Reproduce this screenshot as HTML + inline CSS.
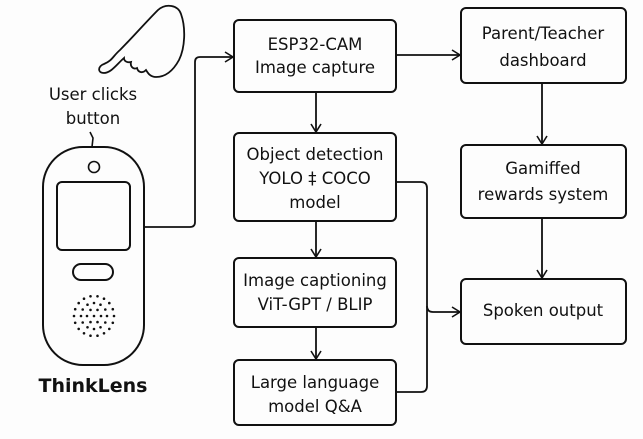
<!DOCTYPE html>
<html><head><style>
body{margin:0;background:#fdfdfd;}
svg{display:block}
text{font-family:"DejaVu Sans","Liberation Sans",sans-serif;fill:#111;}
</style></head><body>
<svg width="643" height="439" viewBox="0 0 643 439" xmlns="http://www.w3.org/2000/svg">
<defs><marker id="a" markerWidth="12" markerHeight="12" refX="10" refY="6" orient="auto" markerUnits="userSpaceOnUse"><path d="M2,1 L10,6 L2,11" fill="none" stroke="#111" stroke-width="1.6"/></marker></defs>
<g fill="none" stroke="#111" stroke-width="2">
<!-- hand -->
<path d="M104,73 C97,73 98,66 104,64 C112,61 113,56 120,50 C132,38 146,22 158,10 C166,3 178,5 181,14 C186,28 185,48 179,60 C173,71 165,77 156,77 C150,77 148,73 146,70 C142,74 138,72 137,68 C133,70 130,66 131,62 C127,63 124,61 124,58 C117,64 111,73 104,73 Z" stroke-width="1.8"/>
<!-- phone -->
<rect x="43" y="147" width="101" height="218" rx="40"/>
<circle cx="94" cy="167" r="5.5" stroke-width="1.6"/>
<rect x="57" y="182" width="73" height="68" rx="5"/>
<rect x="73" y="264" width="40" height="16" rx="8"/>
<path d="M90,132 L93,138 L92,147" stroke-width="1.6"/>
<!-- boxes -->
<rect x="234" y="20" width="162" height="72" rx="5"/>
<rect x="461" y="8" width="165" height="75" rx="5"/>
<rect x="234" y="133" width="162" height="88" rx="5"/>
<rect x="461" y="145" width="165" height="73" rx="5"/>
<rect x="234" y="258" width="162" height="69" rx="5"/>
<rect x="461" y="279" width="165" height="65" rx="5"/>
<rect x="234" y="360" width="162" height="65" rx="5"/>
</g>
<g fill="none" stroke="#111" stroke-width="1.8">
<path d="M144,227 L190,227 Q195,227 195,222 L195,62 Q195,57 200,57 L233,57" marker-end="url(#a)"/>
<path d="M396,55 L460,55" marker-end="url(#a)"/>
<path d="M316,92 L316,132" marker-end="url(#a)"/>
<path d="M316,221 L316,257" marker-end="url(#a)"/>
<path d="M316,327 L316,359" marker-end="url(#a)"/>
<path d="M542,83 L542,144" marker-end="url(#a)"/>
<path d="M542,218 L542,278" marker-end="url(#a)"/>
<path d="M396,182 L421,182 Q427,182 427,188 L427,386 Q427,392 421,392 L396,392"/>
<path d="M427,306 Q427,312 433,312 L460,312" marker-end="url(#a)"/>
</g>
<g fill="#111" transform="translate(94,316)">
<circle cx="0" cy="0" r="1.3"/>
<circle cx="7" cy="0" r="1.3"/><circle cx="3.5" cy="6.1" r="1.3"/><circle cx="-3.5" cy="6.1" r="1.3"/><circle cx="-7" cy="0" r="1.3"/><circle cx="-3.5" cy="-6.1" r="1.3"/><circle cx="3.5" cy="-6.1" r="1.3"/>
<circle cx="13" cy="0" r="1.3"/><circle cx="11.3" cy="6.5" r="1.3"/><circle cx="6.5" cy="11.3" r="1.3"/><circle cx="0" cy="13" r="1.3"/><circle cx="-6.5" cy="11.3" r="1.3"/><circle cx="-11.3" cy="6.5" r="1.3"/><circle cx="-13" cy="0" r="1.3"/><circle cx="-11.3" cy="-6.5" r="1.3"/><circle cx="-6.5" cy="-11.3" r="1.3"/><circle cx="0" cy="-13" r="1.3"/><circle cx="6.5" cy="-11.3" r="1.3"/><circle cx="11.3" cy="-6.5" r="1.3"/>
<circle cx="20" cy="0" r="1.3"/><circle cx="18.8" cy="6.8" r="1.3"/><circle cx="15.3" cy="12.9" r="1.3"/><circle cx="10" cy="17.3" r="1.3"/><circle cx="3.5" cy="19.7" r="1.3"/><circle cx="-3.5" cy="19.7" r="1.3"/><circle cx="-10" cy="17.3" r="1.3"/><circle cx="-15.3" cy="12.9" r="1.3"/><circle cx="-18.8" cy="6.8" r="1.3"/><circle cx="-20" cy="0" r="1.3"/><circle cx="-18.8" cy="-6.8" r="1.3"/><circle cx="-15.3" cy="-12.9" r="1.3"/><circle cx="-10" cy="-17.3" r="1.3"/><circle cx="-3.5" cy="-19.7" r="1.3"/><circle cx="3.5" cy="-19.7" r="1.3"/><circle cx="10" cy="-17.3" r="1.3"/><circle cx="15.3" cy="-12.9" r="1.3"/><circle cx="18.8" cy="-6.8" r="1.3"/>
</g>
<g font-size="16.5" text-anchor="middle">
<text x="93" y="100">User clicks</text>
<text x="93" y="124">button</text>
<text x="315" y="50">ESP32-CAM</text>
<text x="315" y="73">Image capture</text>
<text x="543" y="39">Parent/Teacher</text>
<text x="543" y="66">dashboard</text>
<text x="315" y="160">Object detection</text>
<text x="315" y="184">YOLO ‡ COCO</text>
<text x="315" y="208">model</text>
<text x="543" y="174">Gamiffed</text>
<text x="543" y="200">rewards system</text>
<text x="315" y="286">Image captioning</text>
<text x="315" y="310">ViT-GPT / BLIP</text>
<text x="543" y="316">Spoken output</text>
<text x="315" y="388">Large language</text>
<text x="315" y="412">model Q&amp;A</text>
<text x="93" y="392" font-size="19" font-weight="bold">ThinkLens</text>
</g>
</svg>
</body></html>
